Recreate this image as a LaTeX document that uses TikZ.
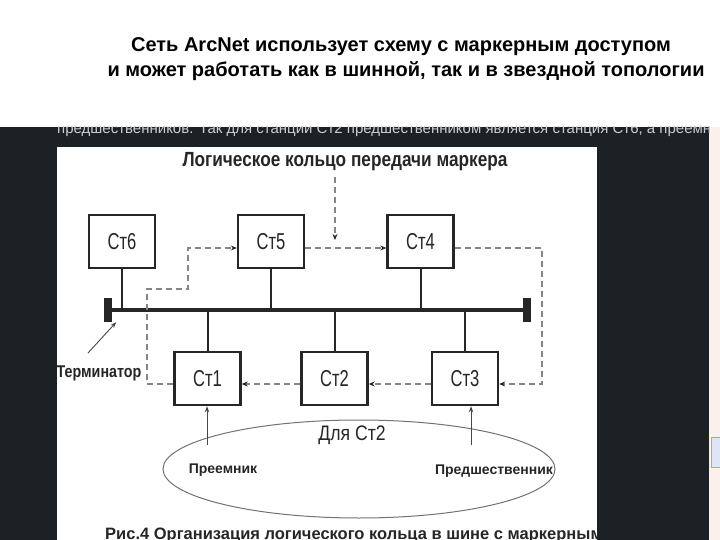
\documentclass[tikz,border=0pt]{standalone}
\usepackage{fontspec}
\usetikzlibrary{arrows.meta}
\setmainfont{Liberation Sans}
\newfontfamily\stfont[FakeStretch=0.72]{Liberation Sans}
\newfontfamily\narrowfont[FakeStretch=0.84]{Liberation Sans}
\definecolor{panel}{HTML}{1B2124}
\definecolor{ink}{HTML}{262626}
\definecolor{ringgray}{HTML}{858585}
\definecolor{strip}{HTML}{FBF1EA}
\definecolor{tabblue}{HTML}{DCE6F5}

\begin{document}
\begin{tikzpicture}[
  x=1pt,
  y=-1pt,
  line join=miter,
  station/.style={draw=ink, line width=2.4pt, fill=white, inner sep=0pt,
    minimum width=66pt, minimum height=53pt, text=ink,
    font=\stfont\fontsize{23}{23}\selectfont},
  terminator/.style={fill=ink, inner sep=0pt, minimum width=8pt, minimum height=24pt},
  bus/.style={draw=ink, line width=4pt},
  stub/.style={draw=ink, line width=2pt},
  ring/.style={draw=ringgray, line width=1.4pt, dash pattern=on 6pt off 4pt},
  ring arrow/.style={ring, -{Stealth[length=6pt, width=5pt, color=ink]}},
  pointer/.style={draw=ink!85, line width=0.9pt, -{Stealth[length=6pt, width=4.5pt]}},
  oval/.style={draw=ink!65, line width=1pt},
  title/.style={anchor=base, text=black, font=\bfseries\fontsize{20}{20}\selectfont},
  label bold/.style={text=ink, font=\bfseries\fontsize{14}{14}\selectfont}
]
  \useasboundingbox (0,0) rectangle (720,540);
  \fill[white] (0,0) rectangle (720,540);

  % Slide title
  \node[title] (title-a) at (401,52) {Сеть ArcNet использует схему с маркерным доступом};
  \node[title] (title-b) at (406,77) {и может работать как в шинной, так и в звездной топологии};

  % Dark page behind the scanned figure
  \fill[panel] (0,127) rectangle (709,540);
  \fill[strip] (709,127) rectangle (720,540);
  \filldraw[fill=tabblue, draw=tabblue!70!blue] (711,437) rectangle (721,467);
  \begin{scope}
    \clip (0,127) rectangle (709,147);
    \node[anchor=base west, inner sep=0pt, text=white!78!panel,
      font=\fontsize{15}{15}\selectfont] (cut-line) at (57,134)
      {предшественников. Так для станции Ст2 предшественником является станция Ст6, а преемником};
  \end{scope}
  \fill[white] (57,147) rectangle (597,540);

  \node[anchor=base, text=ink, font=\narrowfont\bfseries\fontsize{20.5}{20.5}\selectfont]
    (heading) at (345,167) {Логическое кольцо передачи маркера};

  % Stations above and below the bus
  \node[station] (st6) at (122,241.5) {Ст6};
  \node[station] (st5) at (271,241.5) {Ст5};
  \node[station] (st4) at (420.5,241.5) {Ст4};
  \node[station] (st1) at (207.5,378.5) {Ст1};
  \node[station] (st2) at (334.5,378.5) {Ст2};
  \node[station] (st3) at (465,378.5) {Ст3};

  % The bus with its two terminators
  \node[terminator] (term-w) at (108,310) {};
  \node[terminator] (term-e) at (527,310) {};
  \draw[bus] (term-w.east) -- (term-e.west);
  \foreach \st in {st6,st5,st4} {
    \draw[stub] (\st.south) -- (\st.south |- term-w.center);
  }
  \foreach \st in {st1,st2,st3} {
    \draw[stub] (\st.north) -- (\st.north |- term-w.center);
  }

  % Logical token ring
  \coordinate (ring-e) at (542,316);
  \coordinate (ring-w1) at (147,289);
  \coordinate (ring-w2) at (188,270);
  \draw[ring arrow] ([yshift=-6.5pt]st5.east) -- ([yshift=-6.5pt]st4.west);
  \draw[ring arrow] ([yshift=-6.5pt]st4.east) -| (ring-e) |- ([yshift=-5.5pt]st3.east);
  \draw[ring arrow] ([yshift=-5.5pt]st3.west) -- ([yshift=-5.5pt]st2.east);
  \draw[ring arrow] ([yshift=-5.5pt]st2.west) -- ([yshift=-5.5pt]st1.east);
  \draw[ring arrow] ([yshift=-5.5pt]st1.west) -| (ring-w1) -| (ring-w2) |- ([yshift=-6.5pt]st5.west);
  \coordinate (token-in) at (335,177);
  \coordinate (token-end) at (335,240);
  \draw[ring arrow] (token-in) -- (token-end);

  % Terminator label
  \node[text=ink, font=\narrowfont\bfseries\fontsize{17}{17}\selectfont]
    (term-label) at (99,373) {Терминатор};
  \coordinate (term-from) at (88,353);
  \draw[pointer] (term-from) -- ([xshift=4pt]term-w.south east);

  % Successor and predecessor of Ст2
  \draw[oval] (359,469) ellipse [x radius=196, y radius=49];
  \node[text=ink, font=\narrowfont\fontsize{21}{21}\selectfont] (for-st2) at (352,435) {Для Ст2};
  \node[label bold] (succ) at (223,470) {Преемник};
  \node[label bold] (pred) at (494,471) {Предшественник};
  \coordinate (succ-tail) at (207,445);
  \coordinate (pred-tail) at (471,445);
  \draw[pointer] (succ-tail) -- (succ-tail |- st1.south);
  \draw[pointer] (pred-tail) -- (pred-tail |- st3.south);

  % Figure caption, cut by the page edge
  \begin{scope}
    \clip (57,147) rectangle (597,540);
    \node[anchor=base west, inner sep=0pt, text=ink,
      font=\bfseries\fontsize{16.5}{16.5}\selectfont] (fig-caption) at (105,539)
      {Рис.4 Организация логического кольца в шине с маркерным доступом};
  \end{scope}
\end{tikzpicture}
\end{document}
